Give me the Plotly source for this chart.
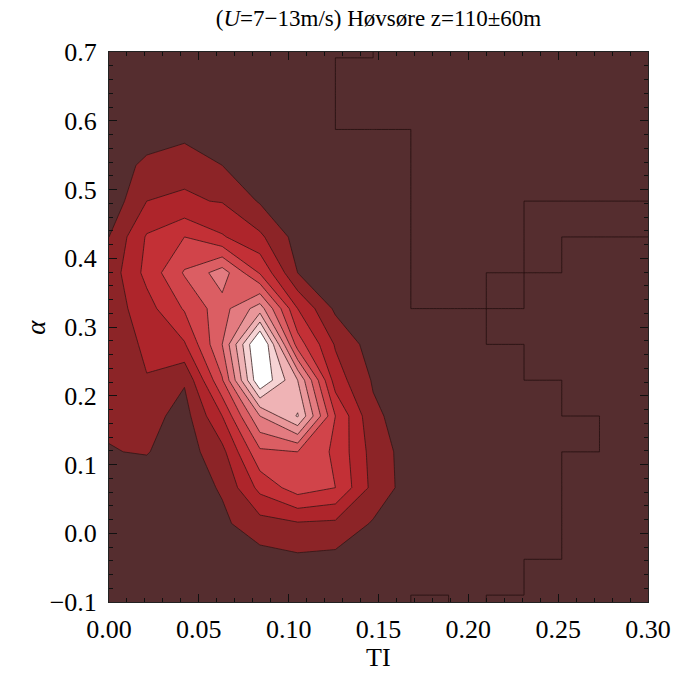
import plotly.graph_objects as go

# Grid of the binned joint distribution of turbulence intensity (TI) and shear exponent (alpha)
ti = [0.000, 0.021, 0.042, 0.063, 0.084, 0.105, 0.126, 0.147,
      0.168, 0.189, 0.210, 0.231, 0.252, 0.273, 0.294, 0.315]
alpha = [-0.1421, -0.0900, -0.0379, 0.0142, 0.0663, 0.1184, 0.1705, 0.2226, 0.2747,
         0.3268, 0.3789, 0.4310, 0.4831, 0.5352, 0.5873, 0.6394, 0.6915, 0.7436]

# density[row][col]: row follows alpha, col follows ti
density = [
    [0.5, 0.5, 0.5, 0.5, 0.5, 0.5, 0.5, 0.5, 0, 0, 0, 0, 0, 0, 0, 0],
    [0.5, 0.5, 0.5, 0.5, 0.5, 0.5, 0.5, 0.5, 0, 0.5, 0, 0, 0, 0, 0, 0],
    [0.5, 0.5, 0.5, 0.5, 0.6, 0.8, 0.7, 0.5, 0.5, 0.5, 0, 0.5, 0, 0, 0, 0],
    [0.5, 0.5, 0.5, 0.8, 1.6, 1.9, 1.8, 0.9, 0.5, 0.5, 0.5, 0, 0, 0, 0, 0],
    [0.5, 0.5, 0.5, 1.1, 3.3, 4.5, 4.0, 1.7, 0.5, 0.5, 0.5, 0.5, 0, 0, 0, 0],
    [0.97, 1.05, 0.5, 1.7, 4.8, 5.0, 3.8, 1.6, 0.5, 0.5, 0.5, 0.5, 0.5, 0, 0, 0],
    [1.1, 1.4, 0.6, 3.0, 7.0, 9.1, 4.0, 1.2, 0.5, 0.5, 0.5, 0.5, 0, 0, 0, 0],
    [1.2, 1.95, 1.1, 4.9, 11.0, 8.0, 2.5, 0.9, 0.5, 0.5, 0.5, 0, 0, 0, 0, 0],
    [1.3, 2.2, 2.9, 6.0, 11.5, 4.5, 1.9, 0.5, 0.5, 0.5, 0, 0, 0, 0, 0, 0],
    [1.4, 2.6, 4.1, 5.6, 7.5, 3.0, 0.8, 0.5, 0, 0, 0, 0, 0, 0, 0, 0],
    [1.4, 3.3, 5.1, 6.5, 3.9, 1.0, 0.5, 0.5, 0, 0, 0, 0, 0, 0, 0, 0],
    [1.0, 3.1, 4.0, 3.1, 2.2, 0.6, 0.5, 0.5, 0, 0, 0, 0, 0.5, 0, 0, 0],
    [0.3, 2.0, 2.1, 1.95, 0.9, 0.5, 0.5, 0.5, 0, 0, 0, 0, 0, 0, 0, 0],
    [0.5, 1.2, 1.8, 1.0, 0.5, 0.5, 0.5, 0.5, 0, 0, 0, 0, 0, 0, 0, 0],
    [0.5, 0.5, 0.5, 0.5, 0.5, 0.5, 0, 0, 0, 0, 0, 0, 0, 0, 0, 0],
    [0.5, 0.5, 0.5, 0.5, 0.5, 0.5, 0, 0, 0, 0, 0, 0, 0, 0, 0, 0],
    [0.5, 0.5, 0.5, 0.5, 0.5, 0.5, 0.5, 0, 0, 0, 0, 0, 0, 0, 0, 0],
    [0.5, 0.5, 0.5, 0.5, 0.5, 0.5, 0.5, 0, 0, 0, 0, 0, 0, 0, 0, 0],
]

# Bins without any samples (1 = empty); cell [j][k] spans alpha[j]..alpha[j+1], ti[k]..ti[k+1]
empty_bins = [
    [0, 0, 0, 0, 0, 0, 0, 0, 1, 0, 1, 1, 1, 1, 1],
    [0, 0, 0, 0, 0, 0, 0, 0, 0, 0, 0, 1, 1, 1, 1],
    [0, 0, 0, 0, 0, 0, 0, 0, 0, 0, 0, 0, 1, 1, 1],
    [0, 0, 0, 0, 0, 0, 0, 0, 0, 0, 0, 0, 1, 1, 1],
    [0, 0, 0, 0, 0, 0, 0, 0, 0, 0, 0, 0, 1, 1, 1],
    [0, 0, 0, 0, 0, 0, 0, 0, 0, 0, 0, 0, 0, 1, 1],
    [0, 0, 0, 0, 0, 0, 0, 0, 0, 0, 0, 0, 1, 1, 1],
    [0, 0, 0, 0, 0, 0, 0, 0, 0, 0, 0, 1, 1, 1, 1],
    [0, 0, 0, 0, 0, 0, 0, 0, 0, 0, 1, 1, 1, 1, 1],
    [0, 0, 0, 0, 0, 0, 0, 0, 1, 1, 0, 1, 1, 1, 1],
    [0, 0, 0, 0, 0, 0, 0, 0, 1, 1, 1, 0, 1, 1, 1],
    [0, 0, 0, 0, 0, 0, 0, 0, 1, 1, 1, 0, 0, 0, 0],
    [0, 0, 0, 0, 0, 0, 0, 0, 1, 1, 1, 1, 1, 1, 1],
    [0, 0, 0, 0, 0, 0, 0, 0, 1, 1, 1, 1, 1, 1, 1],
    [0, 0, 0, 0, 0, 0, 1, 1, 1, 1, 1, 1, 1, 1, 1],
    [0, 0, 0, 0, 0, 0, 1, 1, 1, 1, 1, 1, 1, 1, 1],
    [0, 0, 0, 0, 0, 0, 0, 1, 1, 1, 1, 1, 1, 1, 1],
]

# Shading levels 1..10 and the colour of each band (below 1, 1-2, ..., above 10)
band_colors = ["#552D2F", "#8C2427", "#AE252B", "#C33036", "#D1444A", "#DB5E63",
               "#E37B80", "#E9979A", "#EFB3B5", "#F6D3D4", "#FFFFFF"]
n_levels = len(band_colors) - 1
colorscale = [[k / n_levels, c] for k, c in enumerate(band_colors)]

x_ticks = [0.00, 0.05, 0.10, 0.15, 0.20, 0.25, 0.30]
y_ticks = [-0.1, 0.0, 0.1, 0.2, 0.3, 0.4, 0.5, 0.6, 0.7]

serif = "Liberation Serif"


def cell_samples(edges, eps=1e-5):
    """Two sample positions just inside each bin, so bin borders fall on the grid lines."""
    out = []
    for a, b in zip(edges[:-1], edges[1:]):
        out += [a + eps, b - eps]
    return out


mask_x = cell_samples(ti)
mask_y = cell_samples(alpha)
mask_z = []
for row in empty_bins:
    fine_row = [v for v in row for _ in range(2)]
    mask_z += [fine_row, fine_row]

fig = go.Figure()

# Filled contour bands
fig.add_trace(go.Contour(
    x=ti, y=alpha, z=density,
    contours=dict(start=1, end=n_levels, size=1, coloring="fill", showlines=True),
    colorscale=colorscale,
    line=dict(color="rgba(45,20,20,0.75)", width=1, smoothing=0),
    showscale=False, hoverinfo="skip",
))

# Border of the empty-bin region
fig.add_trace(go.Contour(
    x=mask_x, y=mask_y, z=mask_z,
    contours=dict(start=0.5, end=0.5, size=1, coloring="none"),
    line=dict(color="rgba(35,15,15,0.8)", width=1, smoothing=0),
    showscale=False, hoverinfo="skip",
))

axis_common = dict(
    showline=True, linecolor="#222", linewidth=1, mirror="ticks",
    ticks="inside", ticklen=8, tickwidth=1, tickcolor="#111",
    showgrid=False, zeroline=False,
    tickfont=dict(family=serif, size=26, color="black"),
)

fig.update_xaxes(
    range=[0, 0.3], tickvals=x_ticks, tickformat=".2f",
    minor=dict(dtick=0.01, tick0=0, ticklen=4, ticks="inside", tickcolor="#111"),
    ticklabelstandoff=4,
    **axis_common,
)
fig.update_yaxes(
    range=[-0.1, 0.7], tickvals=y_ticks, tickformat=".1f",
    minor=dict(dtick=0.02, tick0=-0.1, ticklen=4, ticks="inside", tickcolor="#111"),
    ticklabelstandoff=6,
    **axis_common,
)

fig.update_layout(
    width=683, height=675,
    margin=dict(l=109, r=30, t=52, b=73),
    paper_bgcolor="white", plot_bgcolor=band_colors[0],
    font=dict(family=serif, color="black"),
    title=dict(text="(<i>U</i>=7\u221213m/s) H\u00f8vs\u00f8re z=110\u00b160m",
               x=0.5, xref="paper", xanchor="center",
               y=1 - 18 / 675, yref="container", yanchor="middle",
               font=dict(family=serif, size=23, color="black")),
    annotations=[
        dict(text="TI", x=0.5, y=-0.1, xref="paper", yref="paper",
             xanchor="center", yanchor="middle", showarrow=False,
             font=dict(family=serif, size=26, color="black")),
        dict(text="<i>\u03b1</i>", x=-0.136, y=0.5, xref="paper", yref="paper",
             xanchor="center", yanchor="middle", showarrow=False, textangle=-90,
             font=dict(family=serif, size=27, color="black")),
    ],
)

fig.write_html("out.html")
